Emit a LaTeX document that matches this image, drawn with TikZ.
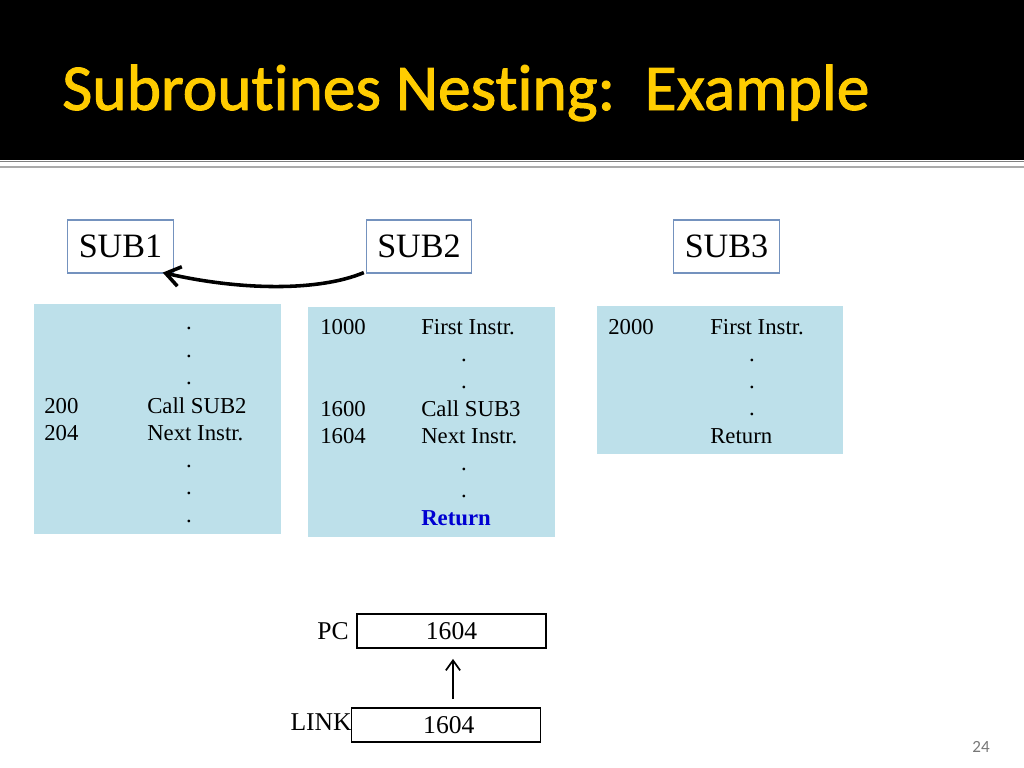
\documentclass[tikz,border=0pt]{standalone}
\usepackage{fontspec}
\setmainfont{Liberation Serif}
\newfontfamily\titlefont[Ligatures=NoCommon,FakeBold=1.5]{Carlito}
\newfontfamily\pagefont{Carlito}
\usetikzlibrary{arrows.meta}
\definecolor{boxblue}{RGB}{189,224,234}
\definecolor{subedge}{RGB}{116,146,190}
\definecolor{titleyellow}{RGB}{255,204,0}
\definecolor{retblue}{RGB}{0,0,210}
\definecolor{rulegrayA}{RGB}{128,128,128}
\definecolor{rulegrayB}{RGB}{170,170,170}
\definecolor{pagegray}{RGB}{120,120,120}
\tikzset{
  subbox/.style={draw=subedge,line width=0.8pt,fill=white,minimum width=74pt,minimum height=37.3pt,inner sep=0pt,font=\fontsize{24}{28}\selectfont},
  codebox/.style={fill=boxblue,inner sep=0pt},
  txt/.style={anchor=base west,inner sep=0pt,font=\fontsize{16}{19}\selectfont},
  dotm/.style={anchor=base,inner sep=0pt,font=\fontsize{16}{19}\selectfont},
  regbox/.style={draw=black,line width=1.3pt,minimum width=132.9pt,minimum height=23.9pt,inner sep=0pt,font=\fontsize{18}{21}\selectfont},
  reglabel/.style={anchor=east,inner sep=0pt,font=\fontsize{18}{21}\selectfont},
}
\begin{document}
\begin{tikzpicture}[x=0.703pt,y=-0.703pt]
\fill[white] (0,0) rectangle (1024,768);
\useasboundingbox (0,0) rectangle (1024,768);
% title bar
\fill[black] (0,0) rectangle (1024,160);
\fill[rulegrayA] (0,160.5) rectangle (1024,162);
\fill[rulegrayB] (0,165.5) rectangle (1024,168);
\node[anchor=base west,inner sep=0pt,text=titleyellow,font=\titlefont\fontsize{46}{54}\selectfont] (title) at (62,110) {Subroutines Nesting:\ \ Example};

% SUB labels
\node[subbox] (sub1) at (120.5,246.5) {SUB1};
\node[subbox] (sub2) at (419,246.5) {SUB2};
\node[subbox] (sub3) at (726.5,246.5) {SUB3};

% code boxes
\node[codebox,minimum width=173.6pt,minimum height=161.7pt] (box1) at (157.5,419) {};
\node[codebox,minimum width=173.6pt,minimum height=161.7pt] (box2) at (431.5,422) {};
\node[codebox,minimum width=172.9pt,minimum height=104pt] (box3) at (720,380) {};

% box 1 text
\node[dotm] (b1d1) at (189,329.5) {.};
\node[dotm] (b1d2) at (189,357.5) {.};
\node[dotm] (b1d3) at (189,384.5) {.};
\node[txt] (b1a1) at (44,413) {200};
\node[txt] (b1i1) at (147,413) {Call SUB2};
\node[txt] (b1a2) at (44,440) {204};
\node[txt] (b1i2) at (147,440) {Next Instr.};
\node[dotm] (b1d4) at (189,467.5) {.};
\node[dotm] (b1d5) at (189,494.5) {.};
\node[dotm] (b1d6) at (189,522) {.};

% box 2 text
\node[txt] (b2a1) at (320,334) {1000};
\node[txt] (b2i1) at (421,334) {First Instr.};
\node[dotm] (b2d1) at (464,361.5) {.};
\node[dotm] (b2d2) at (464,388.5) {.};
\node[txt] (b2a2) at (320,416) {1600};
\node[txt] (b2i2) at (421,416) {Call SUB3};
\node[txt] (b2a3) at (320,443) {1604};
\node[txt] (b2i3) at (421,443) {Next Instr.};
\node[dotm] (b2d3) at (464,470) {.};
\node[dotm] (b2d4) at (464,497) {.};
\node[txt,text=retblue,font=\fontsize{16}{19}\selectfont\bfseries] (b2ret) at (421,525) {Return};

% box 3 text
\node[txt] (b3a1) at (608,334) {2000};
\node[txt] (b3i1) at (710,334) {First Instr.};
\node[dotm] (b3d1) at (752,361.5) {.};
\node[dotm] (b3d2) at (752,388.5) {.};
\node[dotm] (b3d3) at (752,415.5) {.};
\node[txt] (b3ret) at (710,443) {Return};

% curved arrow SUB2 -> SUB1
\draw[line width=2.5pt,-{Straight Barb[length=10pt,width=14pt]}]
  ([shift={(-2,-1)}]sub2.south west) .. controls (320,291) and (243,291) .. ([shift={(-11,-1)}]sub1.south east);

% registers
\node[regbox] (pc) at (451.5,631) {1604};
\node[reglabel] (pclab) at (349,631) {PC};
\node[regbox] (link) at (446,725) {\hspace*{4pt}1604};
\node[reglabel] (linklab) at (352,722) {LINK};
\draw[line width=1.2pt,-{Straight Barb[length=7pt,width=10pt]}]
  ([shift={(7,-8)}]link.north) -- ([shift={(1.5,10)}]pc.south);

% page number
\node[anchor=base east,inner sep=0pt,text=pagegray,font=\pagefont\fontsize{12}{14}\selectfont] (pnum) at (990,752) {24};
\end{tikzpicture}
\end{document}
